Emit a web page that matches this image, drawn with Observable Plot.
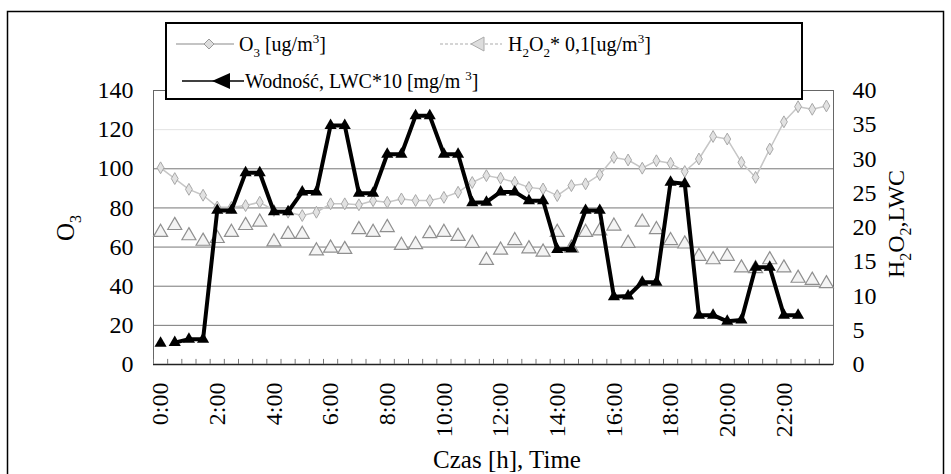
<!DOCTYPE html>
<html>
<head>
<meta charset="utf-8">
<script src="https://cdn.jsdelivr.net/npm/d3@7"></script>
<script src="https://cdn.jsdelivr.net/npm/@observablehq/plot@0.6"></script>
<style>
html, body { margin: 0; padding: 0; background: #fff; }
#chart { width: 951px; height: 474px; overflow: hidden; }
svg text { white-space: pre; }
</style>
</head>
<body>
<div id="chart"></div>
<script>
// ---- data ----
const times = ["0:00","0:30","1:00","1:30","2:00","2:30","3:00","3:30","4:00","4:30","5:00","5:30",
  "6:00","6:30","7:00","7:30","8:00","8:30","9:00","9:30","10:00","10:30","11:00","11:30",
  "12:00","12:30","13:00","13:30","14:00","14:30","15:00","15:30","16:00","16:30","17:00","17:30",
  "18:00","18:30","19:00","19:30","20:00","20:30","21:00","21:30","22:00","22:30","23:00","23:30"];

// O3 [ug/m3] (left axis)
const o3 = [100.5, 95, 89.5, 86.5, 80.5, 80.3, 81.2, 82.9, 78.7, 77.8, 76.1, 77.8,
  82.1, 82.1, 81.6, 83.7, 82.9, 84.6, 83.8, 83.8, 85.4, 88, 93, 96.5,
  95.2, 93.1, 90.5, 89.7, 86.3, 91.4, 92.3, 97, 105.8, 104.5, 100.3, 104.1,
  102.8, 98.6, 105, 116.5, 115.2, 103.3, 95.6, 110.1, 124, 131.7, 130.4, 132.1];

// H2O2 * 0.1 [ug/m3] (right axis)
const h2o2 = [19.3, 20.3, 18.8, 18.0, 18.4, 19.3, 20.3, 20.8, 17.9, 19.0, 19.0, 16.6,
  17.0, 16.8, 19.7, 19.3, 20.0, 17.4, 17.5, 19.1, 19.3, 18.7, 17.7, 15.2,
  16.7, 18.1, 16.9, 16.4, 19.3, 17.0, 19.3, 19.5, 20.2, 17.7, 20.8, 19.7,
  18.1, 17.6, 15.8, 15.3, 15.8, 14.1, 14.0, 15.3, 14.1, 12.6, 12.3, 11.8];

// Wodność, LWC*10 [mg/m3] (right axis)
const lwc = [3.1, 3.2, 3.7, 3.7, 22.5, 22.5, 28.0, 28.0, 22.3, 22.3, 25.2, 25.2,
  34.9, 34.9, 25.0, 25.0, 30.7, 30.7, 36.3, 36.3, 30.7, 30.7, 23.6, 23.7,
  25.2, 25.2, 23.9, 23.9, 16.8, 16.9, 22.5, 22.5, 9.9, 10.0, 12.0, 12.0,
  26.6, 26.4, 7.2, 7.2, 6.3, 6.5, 14.2, 14.2, 7.2, 7.2, null, null];

const leftTicks = [0, 20, 40, 60, 80, 100, 120, 140];
const rightTicks = [0, 5, 10, 15, 20, 25, 30, 35, 40];
const xTickLabels = ["0:00","2:00","4:00","6:00","8:00","10:00","12:00","14:00","16:00","18:00","20:00","22:00"];

// ---- build ----
const hour = t => { const [h, m] = t.split(":").map(Number); return h + m / 60; };
const K = 140 / 40; // right axis -> left axis
const rows = times.map((t, i) => ({t, i, h: hour(t), o3: o3[i], h2o2: h2o2[i], lwc: lwc[i]}));
const FONT = '"Liberation Serif", "Times New Roman", serif';

const svgEl = Plot.plot({
  width: 951, height: 474,
  marginLeft: 153, marginRight: 118, marginTop: 90, marginBottom: 110,
  style: {fontFamily: FONT, fontSize: "24px", color: "#000", background: "#fff", overflow: "visible"},
  x: {domain: [-0.25, 23.75]},
  y: {domain: [0, 140]},
  marks: [
    Plot.ruleY(leftTicks.filter(v => v > 0 && v < 120), {stroke: "#777", strokeWidth: 1}),
    Plot.ruleY(leftTicks.filter(v => v === 120), {stroke: "#e2e2e2", strokeWidth: 1}),
    Plot.frame({stroke: "#666", strokeWidth: 1}),
    Plot.ruleY([0], {stroke: "#222", strokeWidth: 1.5}),
    Plot.ruleX(rows, {x: d => d.h - 0.25, y1: 0, y2: 2.6, stroke: "#777", strokeWidth: 1}),
    Plot.axisY({ticks: leftTicks, tickSize: 0, tickPadding: 20, label: null, fontSize: 24}),
    Plot.axisY({anchor: "right", ticks: rightTicks.map(v => v * K), tickFormat: v => String(Math.round(v / K)),
      tickSize: 0, tickPadding: 19, label: null, fontSize: 24}),
    Plot.axisX({ticks: xTickLabels.map(hour), tickFormat: h => `${h}:00`, tickRotate: -90,
      tickSize: 0, tickPadding: 18, label: null, fontSize: 24}),
    Plot.lineY(rows, {x: "h", y: "o3", stroke: "#c6c6c6", strokeWidth: 1.5}),
    Plot.dot(rows, {x: "h", y: "o3", symbol: "diamond", r: 3.6, stroke: "#a8a8a8", fill: "#e2e2e2", strokeWidth: 1}),
    Plot.dot(rows, {x: "h", y: d => d.h2o2 * K, symbol: "triangle", r: 5.2, stroke: "#8f8f8f", fill: "#f4f4f4", strokeWidth: 1.2}),
    Plot.lineY(rows.filter(d => d.i > 0 && d.lwc != null), {x: "h", y: d => d.lwc * K, stroke: "#000", strokeWidth: 4, strokeLinejoin: "miter"}),
    Plot.dot(rows.filter(d => d.lwc != null), {x: "h", y: d => d.lwc * K, symbol: "triangle", r: 4.5, fill: "#000", stroke: "none"})
  ]
});
document.getElementById("chart").appendChild(svgEl);

const svg = d3.select(svgEl);

function rich(parent, parts, attrs, fs) {
  const t = parent.append("text").attr("font-family", FONT).attr("font-size", fs).attr("fill", "#000")
    .attr("text-anchor", "start");
  for (const [k, v] of Object.entries(attrs)) t.attr(k, v);
  let shift = 0;
  for (const [s, kind] of parts) {
    const target = kind === "sub" ? 0.28 * fs : kind === "sup" ? -0.42 * fs : 0;
    t.append("tspan").text(s).attr("dy", target - shift)
      .attr("font-size", kind ? Math.round(fs * 0.65) : fs);
    shift = target;
  }
  return t;
}

// axis titles
rich(svg, [["O"], ["3", "sub"]], {transform: "translate(74,228) rotate(-90)", "text-anchor": "middle"}, 25);
rich(svg, [["H"], ["2", "sub"], ["O"], ["2", "sub"], [",LWC"]], {transform: "translate(904,224) rotate(-90)", "text-anchor": "middle"}, 24);
rich(svg, [["Czas [h], Time"]], {x: 507, y: 468, "text-anchor": "middle"}, 25);

// legend
const lg = svg.append("g");
lg.append("rect").attr("x", 166).attr("y", 23).attr("width", 636).attr("height", 76)
  .attr("fill", "#fff").attr("stroke", "#000").attr("stroke-width", 2);
// O3 entry
lg.append("line").attr("x1", 176).attr("x2", 234).attr("y1", 44).attr("y2", 44).attr("stroke", "#b0b0b0").attr("stroke-width", 1.5);
lg.append("path").attr("d", "M209,39L214,44L209,49L204,44Z").attr("fill", "#ddd").attr("stroke", "#999");
rich(lg, [["O"], ["3", "sub"], [" [ug/m"], ["3", "sup"], ["]"]], {x: 239, y: 51}, 20);
// H2O2 entry
lg.append("line").attr("x1", 440).attr("x2", 502).attr("y1", 44).attr("y2", 44).attr("stroke", "#c8c8c8").attr("stroke-width", 1.5).attr("stroke-dasharray", "3,2");
lg.append("path").attr("d", "M471,44L484,37L484,51Z").attr("fill", "#ddd").attr("stroke", "#aaa");
rich(lg, [["H"], ["2", "sub"], ["O"], ["2", "sub"], ["* 0,1[ug/m"], ["3", "sup"], ["]"]], {x: 508, y: 51}, 20);
// LWC entry
lg.append("line").attr("x1", 182).attr("x2", 244).attr("y1", 81).attr("y2", 81).attr("stroke", "#000").attr("stroke-width", 1.5);
lg.append("path").attr("d", "M212,81L230,73L230,89Z").attr("fill", "#000");
rich(lg, [["Wodność, LWC*10 [mg/m "], ["3", "sup"], ["]"]], {x: 245, y: 88}, 20);

// outer frame
svg.append("rect").attr("x", 7.5).attr("y", 11.5).attr("width", 936).attr("height", 480)
  .attr("fill", "none").attr("stroke", "#000").attr("stroke-width", 1.5);
</script>
</body>
</html>
